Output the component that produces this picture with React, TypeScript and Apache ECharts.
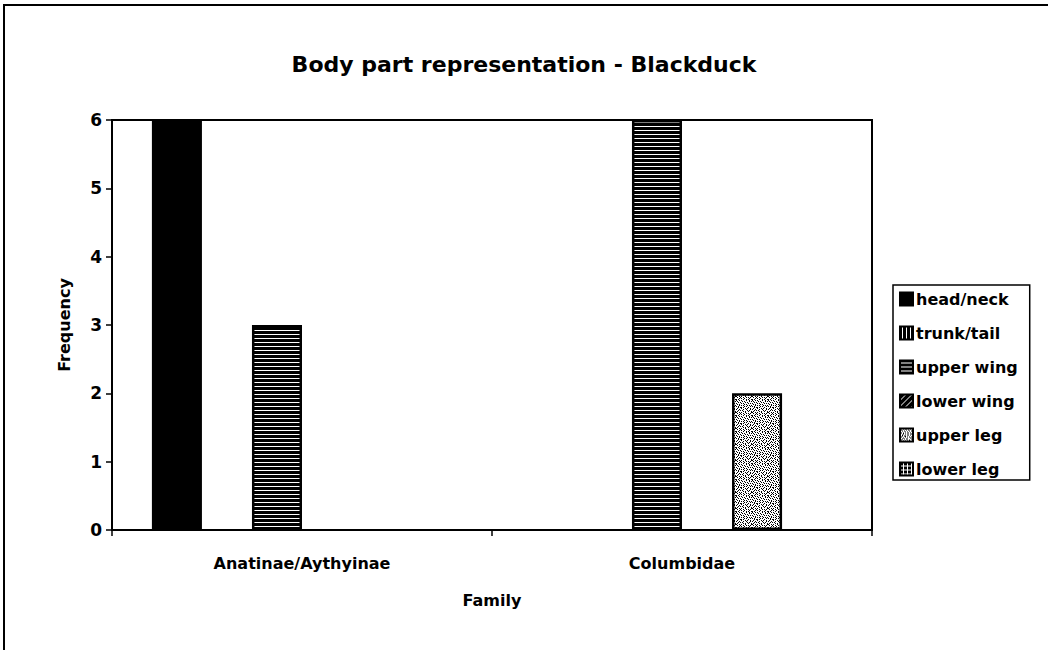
import React, { useEffect, useRef } from "react";
import * as echarts from "echarts";

const titleText = "Body part representation - Blackduck";
const categories = ["Anatinae/Aythyinae", "Columbidae"];
const seriesNames = ["head/neck", "trunk/tail", "upper wing", "lower wing", "upper leg", "lower leg"];
const headNeck = [6, 0];
const trunkTail = [0, 0];
const upperWing = [3, 6];
const lowerWing = [0, 0];
const upperLeg = [0, 2];
const lowerLeg = [0, 0];
const seriesValues = [headNeck, trunkTail, upperWing, lowerWing, upperLeg, lowerLeg];
const yMin = 0;
const yMax = 6;
const yInterval = 1;

const FONT = "'DejaVu Sans', Arial, sans-serif";

function bitmap(rows: string[]): HTMLCanvasElement {
  const h = rows.length;
  const w = rows[0].length;
  const c = document.createElement("canvas");
  c.width = w;
  c.height = h;
  const ctx = c.getContext("2d")!;
  ctx.fillStyle = "#ffffff";
  ctx.fillRect(0, 0, w, h);
  ctx.fillStyle = "#000000";
  for (let y = 0; y < h; y++) {
    for (let x = 0; x < w; x++) {
      if (rows[y][x] === "#") ctx.fillRect(x, y, 1, 1);
    }
  }
  return c;
}

function makePatterns(): any[] {
  const solid = "#000000";
  const vertical = bitmap(["##.#", "##.#", "##.#", "##.#"]);
  const horizontal = bitmap(["####", "####", "....", "####"]);
  const diagonal = bitmap([
    "#####.",
    "####.#",
    "###.##",
    "##.###",
    "#.####",
    ".#####",
  ]);
  const stipple = bitmap([
    "#..#.#....#..#..",
    ".#....#.#....#.#",
    "..#.#....#.#....",
    "#....#.#....#.#.",
    ".#.#....#.#.....",
    "...#.#.#...#.#.#",
    "#.#.....#.#...#.",
    "..#.##.#....#...",
    ".#...#...#.#..#.",
    "#..#...#..#...#.",
    "..#.#.#....#.#..",
    ".#.....#.#..#..#",
    "#..#.#...#.....#",
    ".#..#..#..#.#.#.",
    "...#.#..#....#..",
    "#.#....#..#.#..#",
  ]);
  const grid = bitmap(["###.", "###.", "###.", "...."]);
  const pat = (c: HTMLCanvasElement) => ({ image: c, repeat: "repeat" });
  return [solid, pat(vertical), pat(horizontal), pat(diagonal), pat(stipple), pat(grid)];
}

export default function App() {
  const ref = useRef<HTMLDivElement>(null);
  useEffect(() => {
    document.body.style.margin = "0";
    const chart = echarts.init(ref.current!, null, { renderer: "svg" });
    const fills = makePatterns();
    const option: any = {
      animation: false,
      backgroundColor: "#ffffff",
      title: {
        text: titleText,
        left: "center",
        top: 48,
        textStyle: { fontFamily: FONT, fontWeight: "bold", fontSize: 22, color: "#000" },
      },
      grid: {
        left: 112,
        right: 176,
        top: 120,
        bottom: 120,
        show: true,
        borderColor: "#000",
        borderWidth: 2,
        backgroundColor: "#fff",
        containLabel: false,
      },
      legend: {
        orient: "vertical",
        left: 893,
        top: 285,
        width: 139,
        itemWidth: 13,
        itemHeight: 13,
        itemGap: 16,
        padding: [5, 12, 2, 6],
        borderColor: "#000",
        borderWidth: 1.5,
        backgroundColor: "#fff",
        icon: "rect",
        textStyle: { fontFamily: FONT, fontWeight: "bold", fontSize: 16, color: "#000", lineHeight: 18, padding: [0, 0, 0, -2] },
        data: seriesNames,
      },
      xAxis: {
        type: "category",
        data: categories,
        name: "Family",
        nameLocation: "middle",
        nameGap: 62,
        nameTextStyle: { fontFamily: FONT, fontWeight: "bold", fontSize: 16, color: "#000" },
        axisLine: { lineStyle: { color: "#000", width: 2 } },
        axisTick: { show: true, length: 6, lineStyle: { color: "#000", width: 1.5 } },
        axisLabel: { fontFamily: FONT, fontWeight: "bold", fontSize: 16, color: "#000", margin: 25 },
        splitLine: { show: false },
      },
      yAxis: {
        type: "value",
        min: yMin,
        max: yMax,
        interval: yInterval,
        name: "Frequency",
        nameLocation: "middle",
        nameGap: 40,
        nameRotate: 90,
        nameTextStyle: { fontFamily: FONT, fontWeight: "bold", fontSize: 16, color: "#000" },
        axisLine: { show: true, lineStyle: { color: "#000", width: 2 } },
        axisTick: { show: true, length: 6, lineStyle: { color: "#000", width: 1.5 } },
        axisLabel: { fontFamily: FONT, fontWeight: "bold", fontSize: 17, color: "#000", margin: 10 },
        splitLine: { show: false },
      },
      series: seriesNames.map((name, i) => ({
        name,
        type: "bar",
        data: seriesValues[i].map((v) => (v === 0 ? { value: v, itemStyle: { borderWidth: 0 } } : v)),
        barGap: "0%",
        barCategoryGap: "21%",
        itemStyle: { color: fills[i], borderColor: "#000", borderWidth: 2.5 },
        emphasis: { disabled: true },
      })),
      graphic: [
        {
          type: "rect",
          shape: { x: 4, y: 5, width: 1100, height: 700 },
          style: { fill: "none", stroke: "#000", lineWidth: 2 },
          silent: true,
          z: 100,
        },
      ],
    };
    chart.setOption(option);
    return () => chart.dispose();
  }, []);
  return <div ref={ref} style={{ width: 1048, height: 650 }} />;
}
